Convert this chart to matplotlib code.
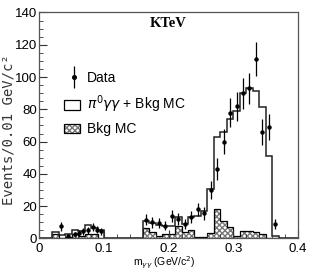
import numpy as np
import matplotlib
matplotlib.use("Agg")
import matplotlib.pyplot as plt
from matplotlib.ticker import MultipleLocator
from matplotlib.patches import Rectangle

# histogram bins, 0.01 GeV wide
bin_edges = np.round(np.arange(0.0, 0.4001, 0.01), 3)

mc_total = [0, 0.5, 4, 2, 2.5, 5.5, 4.5, 8.5, 6.5, 5,
            0, 0, 0, 0, 0, 0, 11, 9.5, 8.5, 7.5,
            8, 13, 9, 13, 14, 17, 30.5, 63, 66, 74,
            79, 90, 93.5, 91.5, 81.5, 51, 1.5, 0, 0, 0]

bkg_mc = [0, 0, 2.5, 0.5, 1, 2.5, 1.5, 3, 3, 0.5,
          0, 0, 0, 0, 0, 0, 6.5, 4.2, 1.5, 2.5,
          2.5, 7.5, 3.8, 5.5, 1, 1, 3.6, 18.5, 11, 7,
          1.5, 4.8, 4.8, 4, 3, 0, 0, 0, 0, 0]

data_x = [0.034, 0.044, 0.055, 0.062, 0.068, 0.075, 0.083, 0.089, 0.095,
          0.165, 0.175, 0.185, 0.195, 0.205, 0.215, 0.225, 0.235, 0.245,
          0.255, 0.265, 0.275, 0.285, 0.295, 0.305, 0.315, 0.325, 0.335,
          0.345, 0.355, 0.365]
data_y = [7.5, 1.5, 2.5, 3.5, 4.5, 5, 7, 5.5, 4.5,
          11.5, 10, 9.5, 8, 14, 12, 9, 13.5, 18,
          15.5, 30, 43, 60, 78, 82, 90, 93, 111,
          66, 69, 9]
data_err = [2.7, 1.2, 1.6, 1.9, 2.1, 2.2, 2.6, 2.3, 2.1,
            3.4, 3.2, 3.1, 2.8, 3.7, 3.5, 3, 3.7, 4.2,
            3.9, 5.5, 6.6, 7.7, 8.8, 9, 9.5, 9.6, 10.5,
            8.1, 8.3, 3]

plt.rcParams['font.family'] = ['Liberation Sans', 'DejaVu Sans']

fig = plt.figure(figsize=(3.1, 2.71), dpi=100)
ax = fig.add_axes([0.127, 0.12, 0.834, 0.834])

# background MC, hatched
ax.stairs(bkg_mc, bin_edges, fill=True, facecolor='white', edgecolor='#777777',
          hatch='xxxxxx', linewidth=0)
ax.stairs(bkg_mc, bin_edges, color='black', linewidth=0.9)
# signal + background MC
ax.stairs(mc_total, bin_edges, color='#222222', linewidth=1.1)

ax.errorbar(data_x, data_y, yerr=data_err, fmt='o', color='black',
            markersize=2.2, elinewidth=0.9, capsize=0)

ax.set_xlim(0, 0.4)
ax.set_ylim(0, 140)
ax.set_xticks([0, 0.1, 0.2, 0.3, 0.4])
ax.set_xticklabels(['0', '0.1', '0.2', '0.3', '0.4'])
ax.xaxis.set_minor_locator(MultipleLocator(0.02))
ax.yaxis.set_major_locator(MultipleLocator(20))
ax.yaxis.set_minor_locator(MultipleLocator(5))
ax.tick_params(which='both', direction='in', labelsize=9.5, color='#333333')
ax.tick_params(axis='y', pad=1.5)
ax.tick_params(axis='x', pad=3)
ax.tick_params(which='major', length=6)
ax.tick_params(which='minor', length=3)
for sp in ax.spines.values():
    sp.set_color('#555555')
    sp.set_linewidth(0.9)

ax.set_ylabel('Events/0.01 GeV/c²', family='DejaVu Sans Mono', fontsize=10,
              color='#333333', va='center')
ax.yaxis.set_label_coords(-0.12, 0.48)
ax.set_xlabel(r'm$_{\gamma\gamma}$ (GeV/c$^2$)', fontsize=7.5, va='center')
ax.xaxis.set_label_coords(0.485, -0.108)

ax.text(0.50, 0.953, 'KTeV', transform=ax.transAxes, ha='center', va='center',
        family='Liberation Serif', fontweight='bold', fontsize=10.5)

# legend drawn by hand
ax.errorbar([0.133], [0.715], yerr=[0.047], fmt='o', color='black', markersize=2.6,
            elinewidth=0.9, capsize=0, transform=ax.transAxes, clip_on=False)
ax.text(0.185, 0.712, 'Data', transform=ax.transAxes, va='center', fontsize=10)
ax.add_patch(Rectangle((0.097, 0.570), 0.06, 0.043, transform=ax.transAxes,
                       facecolor='white', edgecolor='black', linewidth=0.9))
ax.text(0.185, 0.592, r'$\pi^0\gamma\gamma$ + Bkg MC', transform=ax.transAxes,
        va='center', fontsize=10)
ax.add_patch(Rectangle((0.097, 0.465), 0.06, 0.04, transform=ax.transAxes,
                       facecolor='white', edgecolor='#777777', hatch='xxxxxx',
                       linewidth=0))
ax.add_patch(Rectangle((0.097, 0.465), 0.06, 0.04, transform=ax.transAxes,
                       facecolor='none', edgecolor='black', linewidth=0.9))
ax.text(0.185, 0.486, 'Bkg MC', transform=ax.transAxes, va='center', fontsize=10)

fig.savefig('out.png', dpi=100)
